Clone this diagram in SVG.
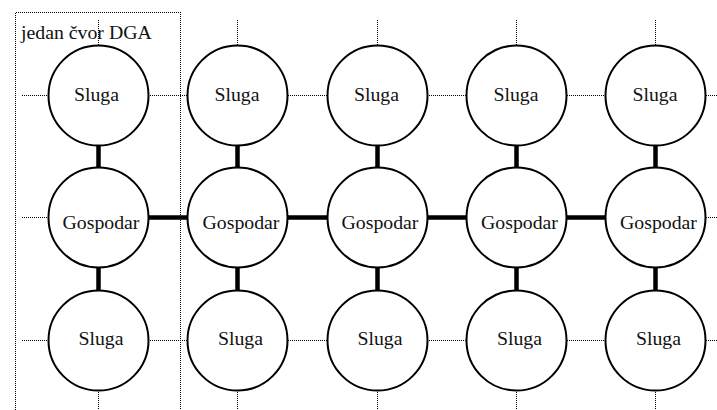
<svg xmlns="http://www.w3.org/2000/svg" width="717" height="410" viewBox="0 0 717 410">
  <style>
    .node { fill: #fff; stroke: #000; stroke-width: 2; }
    text { font-family: 'Liberation Serif', 'DejaVu Serif', serif; font-size: 19.8px; fill: #111; text-anchor: middle; }
    .dot { stroke: #000; stroke-width: 1; stroke-dasharray: 1 1; fill: none; shape-rendering: crispEdges; }
    .bus { stroke: #000; stroke-width: 4.5; fill: none; }
  </style>

  <!-- one DGA node boundary -->
  <g id="dga-cell">
    <path class="dot" d="M15.5 412 V12.5 H180.5 V412"/>
    <text x="21" y="39" style="text-anchor:start">jedan čvor DGA</text>
  </g>

  <g id="connectors">
    <!-- open ends at the top -->
    <path class="dot" d="M98.5 20 V45 M237.5 20 V45 M377.5 20 V45 M516.5 20 V45 M655.5 20 V45"/>
    <!-- open ends at the bottom -->
    <path class="dot" d="M98.5 390 V410 M237.5 390 V410 M377.5 390 V410 M516.5 390 V410 M655.5 390 V410"/>
    <!-- slave row links (top) -->
    <path class="dot" d="M22 95.5 H48 M148 95.5 H187.5 M287.5 95.5 H327 M427 95.5 H466.5 M566.5 95.5 H605.5 M705.5 95.5 H717"/>
    <!-- slave row links (bottom) -->
    <path class="dot" d="M22 340.5 H48 M148 340.5 H187.5 M287.5 340.5 H327 M427 340.5 H466.5 M566.5 340.5 H605.5 M705.5 340.5 H717"/>
    <!-- master row open ends -->
    <path class="dot" d="M22 217.5 H48 M705.5 217.5 H717"/>
    <!-- master bus -->
    <path class="bus" d="M148 217.5 H187.5 M287.5 217.5 H327 M427 217.5 H466.5 M566.5 217.5 H605.5"/>
    <!-- master to slave links -->
    <path class="bus" d="M98.5 145 V168 M237.5 145 V168 M377.5 145 V168 M516.5 145 V168 M655.5 145 V168"/>
    <path class="bus" d="M98.5 267 V291 M237.5 267 V291 M377.5 267 V291 M516.5 267 V291 M655.5 267 V291"/>
  </g>

  <g id="s1a"><circle class="node" cx="98.5" cy="95.5" r="50"/><text x="96.5" y="101">Sluga</text></g>
  <g id="s2a"><circle class="node" cx="237.5" cy="95.5" r="50"/><text x="237" y="101">Sluga</text></g>
  <g id="s3a"><circle class="node" cx="377.5" cy="95.5" r="50"/><text x="376.5" y="101">Sluga</text></g>
  <g id="s4a"><circle class="node" cx="516.5" cy="95.5" r="50"/><text x="516" y="101">Sluga</text></g>
  <g id="s5a"><circle class="node" cx="655.5" cy="95.5" r="50"/><text x="655" y="101">Sluga</text></g>

  <g id="g1"><circle class="node" cx="98.5" cy="217.5" r="50"/><text x="101" y="229">Gospodar</text></g>
  <g id="g2"><circle class="node" cx="237.5" cy="217.5" r="50"/><text x="241" y="229">Gospodar</text></g>
  <g id="g3"><circle class="node" cx="377.5" cy="217.5" r="50"/><text x="380" y="229">Gospodar</text></g>
  <g id="g4"><circle class="node" cx="516.5" cy="217.5" r="50"/><text x="519.5" y="229">Gospodar</text></g>
  <g id="g5"><circle class="node" cx="655.5" cy="217.5" r="50"/><text x="658.5" y="229">Gospodar</text></g>

  <g id="s1b"><circle class="node" cx="98.5" cy="340.5" r="50"/><text x="101" y="345">Sluga</text></g>
  <g id="s2b"><circle class="node" cx="237.5" cy="340.5" r="50"/><text x="240.5" y="345">Sluga</text></g>
  <g id="s3b"><circle class="node" cx="377.5" cy="340.5" r="50"/><text x="380" y="345">Sluga</text></g>
  <g id="s4b"><circle class="node" cx="516.5" cy="340.5" r="50"/><text x="519.5" y="345">Sluga</text></g>
  <g id="s5b"><circle class="node" cx="655.5" cy="340.5" r="50"/><text x="658.5" y="345">Sluga</text></g>
</svg>
